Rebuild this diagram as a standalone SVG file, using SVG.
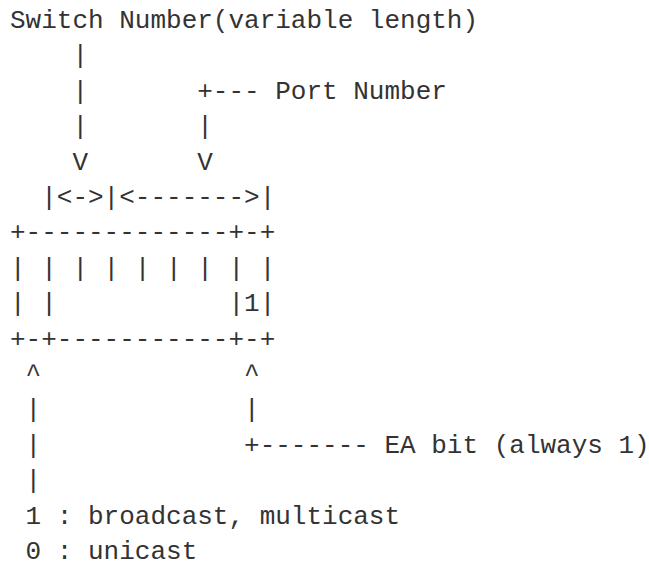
<svg xmlns="http://www.w3.org/2000/svg" width="649" height="567" viewBox="0 0 649 567">
<style>
text{font-family:"Liberation Mono","DejaVu Sans Mono",monospace;font-size:26px;fill:#333;white-space:pre}
</style>
<rect width="649" height="567" fill="#fff"/>
<g id="diagram" xml:space="preserve">
<text x="10" y="28">Switch Number(variable length)</text>
<text x="10" y="63.4">    |</text>
<text x="10" y="98.8">    |       +--- Port Number</text>
<text x="10" y="134.2">    |       |</text>
<text x="10" y="169.6">    V       V</text>
<text x="10" y="205">  |&lt;-&gt;|&lt;-------&gt;|</text>
<text x="10" y="240.4">+-------------+-+</text>
<text x="10" y="275.8">| | | | | | | | |</text>
<text x="10" y="311.2">| |           |1|</text>
<text x="10" y="346.6">+-+-----------+-+</text>
<text x="10" y="382"> ^             ^</text>
<text x="10" y="417.4"> |             |</text>
<text x="10" y="452.8"> |             +------- EA bit (always 1)</text>
<text x="10" y="488.2"> |</text>
<text x="10" y="523.6"> 1 : broadcast, multicast</text>
<text x="10" y="559"> 0 : unicast</text>
</g>
</svg>
